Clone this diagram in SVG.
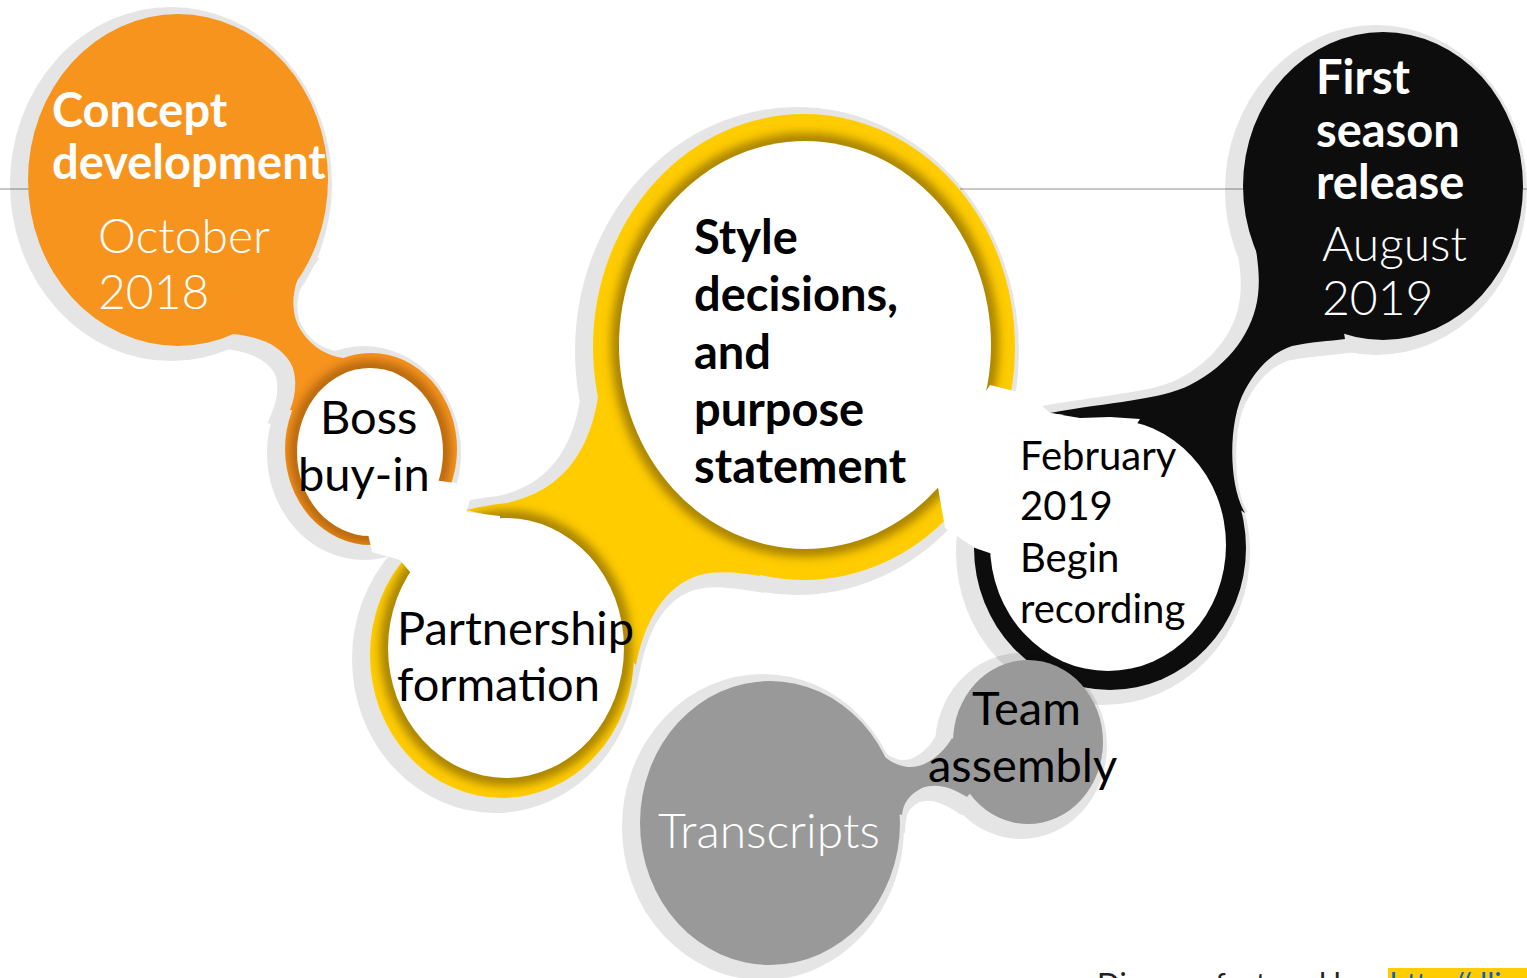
<svg xmlns="http://www.w3.org/2000/svg" width="1527" height="978" viewBox="0 0 1527 978">
<style>
  text { font-family: Lato, "Open Sans", "DejaVu Sans", sans-serif; }
  .w { fill: #ffffff; }
  .k { fill: #000000; }
  .bd { font-weight: 700; font-size: 47px; }
  .lt { font-weight: 300; font-size: 48px; }
  .rg { font-weight: 400; font-size: 47px; }
  .fb { font-weight: 400; font-size: 40px; }
  .sh { opacity: 0.1; }
  .glow { fill: none; stroke-width: 16; filter: url(#blur); }
</style>
<defs>
  <filter id="blur" x="-10%" y="-10%" width="120%" height="120%">
    <feGaussianBlur stdDeviation="5"/>
  </filter>
  <g id="shOrange">
    <ellipse cx="178" cy="180" rx="150" ry="166"/>
    <ellipse cx="371" cy="449" rx="86" ry="96"/>
    <path d="M 307 262 C 292 282, 288 312, 302 332 C 313 348, 328 356, 343 358 L 371 420 L 290 410 C 296 395, 298 375, 290 362 C 280 346, 262 337, 233 334 L 240 250 Z"/>
  </g>
  <g id="shYellow">
    <ellipse cx="804" cy="347" rx="211" ry="233"/>
    <ellipse cx="502" cy="655" rx="132" ry="143"/>
    <path d="M 600 380 C 595 440, 570 490, 506 503 C 490 505, 478 507, 466 510 C 485 515, 505 518, 525 520 L 560 600 L 636 665 C 645 620, 665 585, 700 575 C 720 570, 740 573, 760 576 L 760 400 Z"/>
  </g>
  <g id="shBlack">
    <ellipse cx="1383" cy="186" rx="140" ry="154"/>
    <ellipse cx="1110" cy="548" rx="136" ry="142"/>
    <path d="M 1247 180 C 1250 230, 1262 262, 1258 295 C 1254 330, 1230 365, 1190 385 C 1160 400, 1110 402, 1050 413 C 1080 418, 1110 417, 1140 419 L 1180 470 L 1245 513 C 1228 485, 1228 420, 1245 390 C 1258 366, 1274 352, 1292 346 C 1310 342, 1330 341, 1345 339 L 1330 250 Z"/>
  </g>
  <g id="shGray">
    <ellipse cx="770" cy="823" rx="130" ry="142"/>
    <ellipse cx="1028" cy="742" rx="75" ry="82"/>
    <path d="M 870 740 C 878 752, 890 765, 908 767 C 925 768, 942 755, 952 738 L 990 770 L 967 797 C 950 786, 935 783, 922 788 C 910 794, 903 803, 902 815 L 850 800 Z"/>
  </g>
  <g id="holeEllipses">
    <ellipse cx="370" cy="452" rx="73" ry="84"/>
    <ellipse cx="506" cy="648" rx="118" ry="130"/>
    <ellipse cx="805" cy="345" rx="186" ry="204"/>
    <ellipse cx="1108" cy="545" rx="118" ry="126"/>
  </g>
  <g id="holePassages">
    <polygon points="420,478 462,484 470,500 466,512 500,516 500,545 425,590 400,560 372,552 365,520 380,490"/>
    <polygon points="990,385 1030,395 1050,413 1080,418 1110,417 1140,419 1100,480 1010,560 975,548 945,528 935,470"/>
  </g>
  <mask id="mHoles" maskUnits="userSpaceOnUse" x="0" y="0" width="1527" height="978">
    <rect width="1527" height="978" fill="#fff"/>
    <use href="#holeEllipses" fill="#000"/>
    <use href="#holePassages" fill="#000"/>
  </mask>
  <mask id="mOrange" maskUnits="userSpaceOnUse" x="0" y="0" width="1527" height="978">
    <use href="#shOrange" fill="#fff"/>
  </mask>
  <mask id="mYellow" maskUnits="userSpaceOnUse" x="0" y="0" width="1527" height="978">
    <use href="#shYellow" fill="#fff"/>
  </mask>
</defs>

<rect width="1527" height="978" fill="#ffffff"/>

<g id="connectors">
  <line x1="0" y1="189" x2="60" y2="189" stroke="#c8c8c8" stroke-width="2"/>
  <line x1="960" y1="189" x2="1527" y2="189" stroke="#c8c8c8" stroke-width="2"/>
</g>

<g id="blob-orange">
  <g mask="url(#mHoles)">
    <g class="sh"><use href="#shOrange" transform="translate(-7,4)" fill="#000" stroke="#000" stroke-width="22"/></g>
    <use href="#shOrange" fill="#f7941d"/>
    <g mask="url(#mOrange)"><use href="#holeEllipses" class="glow" stroke="#6b3300" stroke-opacity="0.45"/></g>
  </g>
  <g id="node-concept">
    <text class="bd w" x="52" y="127">Concept</text>
    <text class="bd w" x="52" y="179">development</text>
    <text class="lt w" x="98" y="253">October</text>
    <text class="lt w" x="98" y="309">2018</text>
  </g>
  <g id="node-boss">
    <text class="rg k" x="320" y="434" font-size="46">Boss</text>
    <text class="rg k" x="298" y="491" font-size="46">buy-in</text>
  </g>
</g>

<g id="blob-yellow">
  <g mask="url(#mHoles)">
    <g class="sh"><use href="#shYellow" transform="translate(-7,4)" fill="#000" stroke="#000" stroke-width="22"/></g>
    <use href="#shYellow" fill="#ffcc00"/>
    <g mask="url(#mYellow)"><use href="#holeEllipses" class="glow" stroke="#6e5200" stroke-opacity="0.6"/></g>
  </g>
  <g id="node-partnership">
    <text class="rg k" x="397" y="645">Partnership</text>
    <text class="rg k" x="397" y="701">formation</text>
  </g>
  <g id="node-style">
    <text class="bd k" x="694" y="254" font-size="46">Style</text>
    <text class="bd k" x="694" y="311" font-size="46">decisions,</text>
    <text class="bd k" x="694" y="369" font-size="46">and</text>
    <text class="bd k" x="694" y="426" font-size="46">purpose</text>
    <text class="bd k" x="694" y="483" font-size="46">statement</text>
  </g>
</g>

<g id="blob-black">
  <g mask="url(#mHoles)">
    <g class="sh"><use href="#shBlack" transform="translate(-7,4)" fill="#000" stroke="#000" stroke-width="22"/></g>
    <use href="#shBlack" fill="#0d0d0d"/>
  </g>
  <g id="node-release">
    <text class="bd w" x="1316" y="94">First</text>
    <text class="bd w" x="1316" y="147">season</text>
    <text class="bd w" x="1316" y="199">release</text>
    <text class="lt w" x="1322" y="261">August</text>
    <text class="lt w" x="1322" y="315">2019</text>
  </g>
  <g id="node-recording">
    <text class="fb k" x="1020" y="470">February</text>
    <text class="fb k" x="1020" y="520">2019</text>
    <text class="fb k" x="1020" y="572">Begin</text>
    <text class="fb k" x="1020" y="623">recording</text>
  </g>
</g>

<g id="blob-gray">
  <g mask="url(#mHoles)">
    <g class="sh"><use href="#shGray" transform="translate(-7,4)" fill="#000" stroke="#000" stroke-width="22"/></g>
    <use href="#shGray" fill="#999999"/>
  </g>
  <g id="node-transcripts">
    <text class="lt w" x="658" y="848">Transcripts</text>
  </g>
  <g id="node-team">
    <text class="rg k" x="972" y="725" font-size="48">Team</text>
    <text class="rg k" x="928" y="782" font-size="48">assembly</text>
  </g>
</g>

<g id="footer">
  <text x="1097" y="995" font-size="30" fill="#222">Diagram featured by</text>
  <rect x="1388" y="968" width="139" height="12" fill="#ffcc00"/>
  <text x="1390" y="995" font-size="30" fill="#0563c1">http://dli</text>
</g>
</svg>
